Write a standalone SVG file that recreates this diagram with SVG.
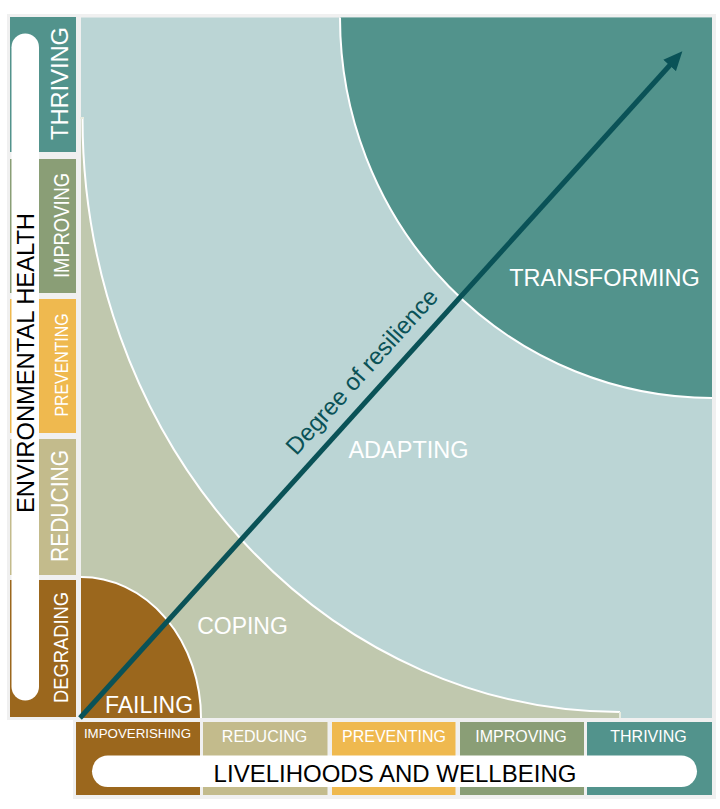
<svg xmlns="http://www.w3.org/2000/svg" width="720" height="809" viewBox="0 0 720 809">
<style>
  .lbl { font-family: "Liberation Sans", Arial, sans-serif; fill: #ffffff; }
  .blk { font-family: "Liberation Sans", Arial, sans-serif; fill: #000000; }
  .edge { fill: none; stroke: #ffffff; stroke-width: 2; }
  .frame { fill: #f0f0f0; }
</style>
<defs>
  <marker id="head" markerUnits="userSpaceOnUse" markerWidth="20" markerHeight="18" refX="1" refY="8.5" orient="auto" viewBox="0 0 20 17">
    <path d="M0,0 L19,8.5 L0,17 Z" fill="#0a5257"/>
  </marker>
</defs>
<rect width="720" height="809" fill="#ffffff"/>

<!-- frames -->
<rect class="frame" x="7" y="14" width="709" height="706"/>
<rect class="frame" x="73" y="718" width="643" height="81"/>

<!-- plot -->
<g id="plot">
  <rect x="81" y="17.5" width="631" height="700.5" fill="#bbd5d5"/>
  <g id="transforming">
    <path d="M340,17.5 A372,380.5 0 0 0 712,398 L712,17.5 Z" fill="#52938c"/>
    <path class="edge" d="M340,17.5 A372,380.5 0 0 0 712,398"/>
    <text class="lbl" x="604.5" y="286" font-size="23.5" text-anchor="middle">TRANSFORMING</text>
  </g>
  <g id="adapting">
    <text class="lbl" x="408.5" y="458" font-size="23.5" text-anchor="middle">ADAPTING</text>
  </g>
  <g id="coping">
    <path d="M81,118 L82.5,118 A537.5,594 0 0 0 620,712 L620,718 L81,718 Z" fill="#c0c8ae"/>
    <path class="edge" d="M82.5,118 A537.5,594 0 0 0 620,712"/>
    <path d="M80,118 L84,118 M620,712 L620,718" stroke="#e8ece0" stroke-width="2" fill="none"/>
    <text class="lbl" x="242.5" y="634" font-size="23" text-anchor="middle">COPING</text>
  </g>
  <g id="failing">
    <path d="M81,577 A120,141 0 0 1 201,718 L81,718 Z" fill="#9b671d"/>
    <path class="edge" d="M81,577 A120,141 0 0 1 201,718"/>
    <text class="lbl" x="149" y="713" font-size="23" text-anchor="middle">FAILING</text>
  </g>
</g>

<!-- left axis -->
<g id="env-axis">
  <rect x="10" y="17" width="66" height="135" fill="#52938c"/>
  <rect x="10" y="159" width="66" height="134" fill="#8a9e76"/>
  <rect x="10" y="299" width="66" height="134" fill="#efb94f"/>
  <rect x="10" y="439" width="66" height="136" fill="#c3bb8c"/>
  <rect x="10" y="580" width="66" height="137" fill="#9b671d"/>
  <rect x="11.5" y="33.5" width="27.5" height="667" rx="13.75" fill="#ffffff"/>
  <text class="lbl" transform="translate(68,83.5) rotate(-90)" font-size="24" text-anchor="middle" textLength="113" lengthAdjust="spacingAndGlyphs">THRIVING</text>
  <text class="lbl" transform="translate(69,225.5) rotate(-90)" font-size="22" text-anchor="middle" textLength="105" lengthAdjust="spacingAndGlyphs">IMPROVING</text>
  <text class="lbl" transform="translate(68,365) rotate(-90)" font-size="18.5" text-anchor="middle" textLength="103" lengthAdjust="spacingAndGlyphs">PREVENTING</text>
  <text class="lbl" transform="translate(68,506) rotate(-90)" font-size="23" text-anchor="middle" textLength="112" lengthAdjust="spacingAndGlyphs">REDUCING</text>
  <text class="lbl" transform="translate(68,647.5) rotate(-90)" font-size="21" text-anchor="middle" textLength="111" lengthAdjust="spacingAndGlyphs">DEGRADING</text>
  <text class="blk" transform="translate(34,363) rotate(-90)" font-size="24" text-anchor="middle" textLength="300" lengthAdjust="spacingAndGlyphs">ENVIRONMENTAL HEALTH</text>
</g>

<!-- bottom axis -->
<g id="live-axis">
  <rect x="76" y="722" width="124" height="73" fill="#9b671d"/>
  <rect x="203" y="722" width="124.5" height="73" fill="#c3bb8c"/>
  <rect x="332" y="722" width="123.5" height="73" fill="#efb94f"/>
  <rect x="460" y="722" width="124" height="73" fill="#8a9e76"/>
  <rect x="587" y="722" width="125" height="73" fill="#52938c"/>
  <text class="lbl" x="137.5" y="738" font-size="13.3" text-anchor="middle">IMPOVERISHING</text>
  <text class="lbl" x="264.5" y="742" font-size="16" text-anchor="middle">REDUCING</text>
  <text class="lbl" x="394" y="742" font-size="16" text-anchor="middle">PREVENTING</text>
  <text class="lbl" x="521" y="742" font-size="16" text-anchor="middle">IMPROVING</text>
  <text class="lbl" x="648.5" y="742" font-size="16" text-anchor="middle">THRIVING</text>
  <rect x="92" y="755.5" width="605" height="31.5" rx="15.75" fill="#ffffff"/>
  <text class="blk" x="395" y="781.5" font-size="24" text-anchor="middle">LIVELIHOODS AND WELLBEING</text>
</g>

<!-- connectors -->
<g id="connectors">
  <line x1="80" y1="718" x2="670.3" y2="64.7" stroke="#0a5257" stroke-width="5" marker-end="url(#head)"/>
  <text transform="translate(379,387) rotate(-47.9)" x="0" y="-15" font-family="Liberation Sans, Arial, sans-serif" font-size="24" fill="#0a5257" text-anchor="middle">Degree of resilience</text>
</g>
</svg>
